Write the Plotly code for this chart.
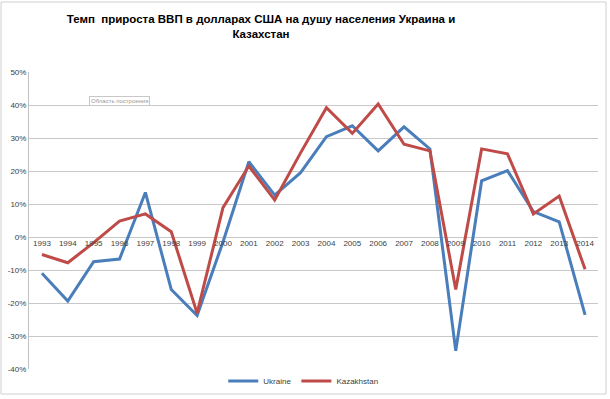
import plotly.graph_objects as go

years = [str(y) for y in range(1993, 2015)]
ukraine = [-11.0, -19.4, -7.5, -6.7, 13.5, -15.9, -23.8, -1.5, 22.8, 12.7, 19.5,
           30.4, 33.7, 26.1, 33.4, 26.7, -34.5, 17.0, 20.1, 7.7, 4.6, -23.6]
kazakhstan = [-5.3, -7.8, -1.7, 4.8, 7.0, 1.6, -23.1, 8.9, 21.5, 11.2, 25.5,
              39.2, 31.4, 40.3, 28.1, 26.1, -15.9, 26.7, 25.2, 7.0, 12.4, -9.8]
y_ticks = list(range(-40, 51, 10))
y_tick_text = [f"{v}%" for v in y_ticks]
title_text = "Темп  прироста ВВП в долларах США на душу населения Украина и<br>Казахстан"

W, H = 610, 399
L, R, T, B = 29, 598, 72, 369

fig = go.Figure()
fig.add_trace(go.Scatter(x=years, y=ukraine, name="Ukraine", mode="lines",
                         line=dict(color="#4a7ebb", width=3)))
fig.add_trace(go.Scatter(x=years, y=kazakhstan, name="Kazakhstan", mode="lines",
                         line=dict(color="#be4b48", width=3)))

def px_x(p):
    return (p - L) / (R - L)

def px_y(p):
    return (B - p) / (B - T)

fig.update_layout(
    width=W, height=H,
    margin=dict(l=L, r=W - R, t=T, b=H - B, pad=0, autoexpand=False),
    paper_bgcolor="white", plot_bgcolor="white",
    font=dict(family="Liberation Sans, Arial", color="#404040"),
    title=dict(text=title_text, x=261 / W, xanchor="center", xref="container",
               y=1 - 23 / H, yanchor="top", yref="container", automargin=False,
               font=dict(size=11.5, color="#000000", weight="bold",
                         family="Liberation Sans, Arial")),
    showlegend=True,
    legend=dict(orientation="h", x=0.482, xanchor="center", y=px_y(381), yanchor="middle",
                font=dict(size=8, color="#404040"), bgcolor="rgba(0,0,0,0)",
                itemwidth=30, tracegroupgap=0),
    xaxis=dict(type="category", range=[-0.5, 21.5], showgrid=False, zeroline=False,
               showline=False, ticks="", anchor="free", position=40 / 90,
               automargin=False,
               tickfont=dict(size=8, color="#404040"), fixedrange=True),
    yaxis=dict(range=[-40, 50], tickvals=y_ticks, ticktext=y_tick_text, showgrid=True,
               gridcolor="#c8c8c8", gridwidth=1, zeroline=False, showline=True,
               linecolor="#c0c0c0", linewidth=1, ticks="", automargin=False,
               tickfont=dict(size=8, color="#404040"), fixedrange=True),
)

# outer chart border
fig.add_shape(type="rect", xref="paper", yref="paper",
              x0=px_x(1), x1=px_x(606), y0=px_y(394), y1=px_y(2),
              line=dict(color="#d0d0d0", width=1), fillcolor="rgba(0,0,0,0)", layer="below")

# plot-area tooltip
fig.add_annotation(text="Область построения", xref="paper", yref="paper",
                   x=px_x(89), y=px_y(96), showarrow=False,
                   font=dict(size=6, color="#9a9a9a", family="Liberation Sans"),
                   bgcolor="white", bordercolor="#c8c8c8", borderwidth=1, borderpad=1)

fig.write_html("out.html", config={"displayModeBar": False},
               post_script="document.body.style.margin='0px';document.body.style.overflow='hidden';")
